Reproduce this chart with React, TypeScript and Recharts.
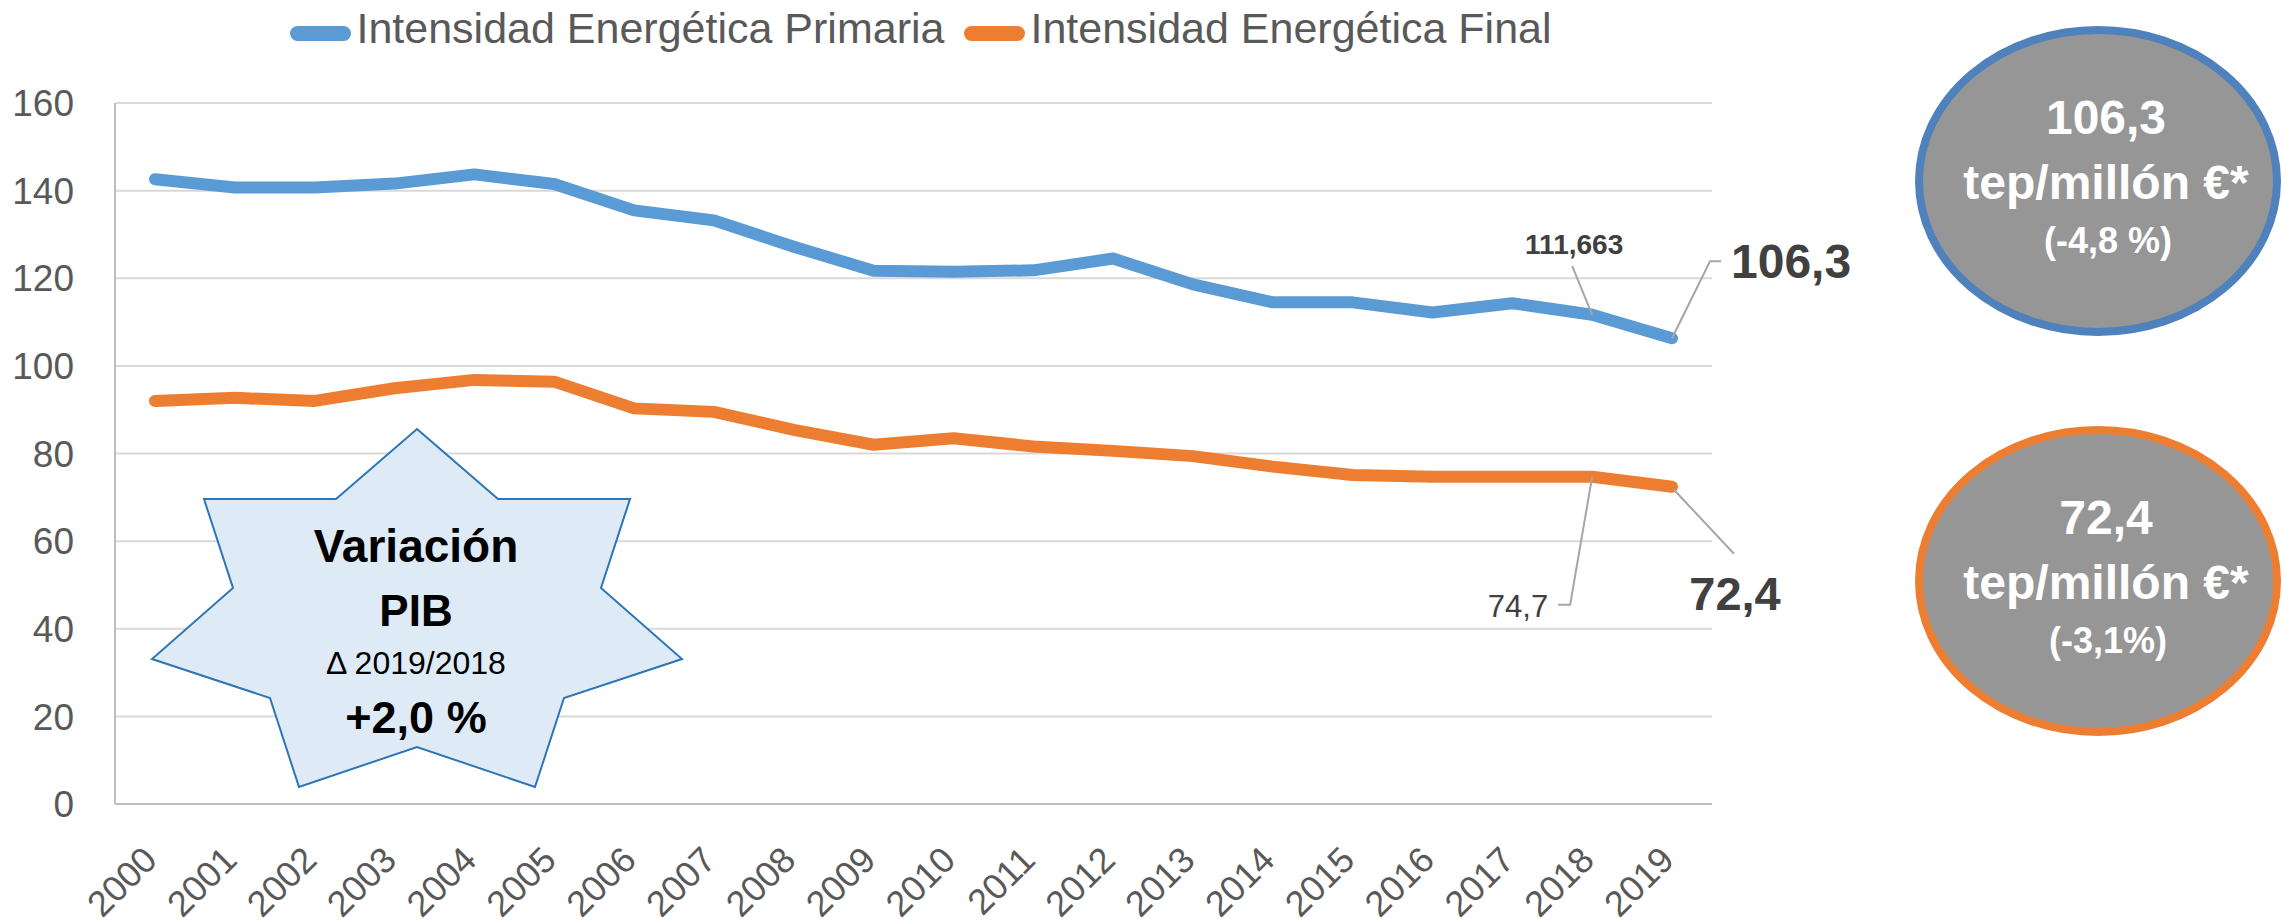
import { LineChart, Line, XAxis, YAxis, CartesianGrid, Legend } from "recharts";

const YEARS = ["2000", "2001", "2002", "2003", "2004", "2005", "2006", "2007", "2008", "2009",
  "2010", "2011", "2012", "2013", "2014", "2015", "2016", "2017", "2018", "2019"];
const PRIMARIA = [142.6, 140.7, 140.7, 141.6, 143.7, 141.5, 135.5, 133.2, 127.2, 121.7,
  121.5, 121.8, 124.5, 118.6, 114.5, 114.5, 112.2, 114.3, 111.663, 106.3];
const FINAL = [92.0, 92.7, 92.0, 94.9, 96.8, 96.4, 90.3, 89.5, 85.4, 82.0,
  83.5, 81.6, 80.6, 79.4, 77.0, 75.1, 74.7, 74.7, 74.7, 72.4];
const Y_TICKS = [0, 20, 40, 60, 80, 100, 120, 140, 160];

const SERIES = [
  { key: "primaria", name: "Intensidad Energética Primaria", color: "#5B9BD5" },
  { key: "final", name: "Intensidad Energética Final", color: "#ED7D31" },
];

const FONT = "'Liberation Sans', Arial, sans-serif";
const TEXT = "#595959";
const LABEL = "#404040";
const LEADER = "#A6A6A6";

const data = YEARS.map((year, i) => ({ year, primaria: PRIMARIA[i], final: FINAL[i] }));

const fmt = (v: number) => String(v).replace(".", ",");

function YearTick({ x, y, payload }: any) {
  const tx = x + 4;
  const ty = y + 58;
  return (
    <text x={tx} y={ty} transform={`rotate(-45, ${tx}, ${ty})`} textAnchor="end"
      fontSize={36} fontFamily={FONT} fill={TEXT}>
      {payload.value}
    </text>
  );
}

function PrimariaLabel({ x, y, index, value }: any) {
  if (index === 18) {
    return (
      <g>
        <line x1={x} y1={y} x2={x - 20} y2={y - 49} stroke={LEADER} strokeWidth={2} />
        <text x={x - 18} y={y - 61} textAnchor="middle" fontSize={28} fontWeight="bold"
          fontFamily={FONT} fill={LABEL}>{fmt(value)}</text>
      </g>
    );
  }
  if (index === 19) {
    return (
      <g>
        <polyline points={`${x},${y} ${x + 38},${y - 77} ${x + 49},${y - 77}`} fill="none"
          stroke={LEADER} strokeWidth={2} />
        <text x={x + 59} y={y - 60} fontSize={48} fontWeight="bold" fontFamily={FONT}
          fill={LABEL}>{fmt(value)}</text>
      </g>
    );
  }
  return null;
}

function FinalLabel({ x, y, index, value }: any) {
  if (index === 18) {
    return (
      <g>
        <polyline points={`${x},${y} ${x - 22},${y + 128} ${x - 34},${y + 128}`} fill="none"
          stroke={LEADER} strokeWidth={2} />
        <text x={x - 44} y={y + 140} textAnchor="end" fontSize={31} fontFamily={FONT}
          fill={LABEL}>{fmt(value)}</text>
      </g>
    );
  }
  if (index === 19) {
    return (
      <g>
        <line x1={x + 2} y1={y + 3} x2={x + 62} y2={y + 67} stroke={LEADER} strokeWidth={2} />
        <text x={x + 63} y={y + 123} textAnchor="middle" fontSize={47} fontWeight="bold"
          fontFamily={FONT} fill={LABEL}>{fmt(value)}</text>
      </g>
    );
  }
  return null;
}

function LegendContent() {
  return (
    <div style={{ display: "flex", justifyContent: "center", alignItems: "center", height: 56 }}>
      {SERIES.map((s, i) => (
        <div key={s.key} style={{ display: "flex", alignItems: "center", marginLeft: i ? 20 : 0 }}>
          <div style={{ width: 61, height: 15, borderRadius: 8, background: s.color, marginTop: 10 }} />
          <span style={{ marginLeft: 5, fontSize: 43, fontFamily: FONT, color: TEXT, lineHeight: "56px" }}>
            {s.name}
          </span>
        </div>
      ))}
    </div>
  );
}

const STAR = [
  [417, 429], [498, 499], [630, 499], [601, 588], [682, 659], [564, 698], [535, 787],
  [417, 747], [299, 787], [270, 698], [152, 659], [233, 588], [204, 499], [336, 499],
];

function Bubble({ cy, color, big, small }: { cy: number; color: string; big: string; small: string }) {
  return (
    <g fontFamily={FONT} fontWeight="bold" fill="#FFFFFF" textAnchor="middle">
      <ellipse cx={2098} cy={cy} rx={179} ry={151} fill="#969696" stroke={color} strokeWidth={8} />
      <text x={2106} y={cy - 47} fontSize={48}>{big}</text>
      <text x={2106} y={cy + 18} fontSize={48}>tep/millón €*</text>
      <text x={2108} y={cy + 72} fontSize={36}>{small}</text>
    </g>
  );
}

export default function App() {
  return (
    <div style={{ position: "absolute", left: 0, top: 0, width: 2285, height: 923, background: "#fff" }}>
      <LineChart width={2285} height={923} data={data}
        margin={{ top: 103, right: 573, bottom: 0, left: 0 }}>
        <CartesianGrid vertical={false} stroke="#D9D9D9" strokeWidth={2} />
        <XAxis dataKey="year" interval={0} height={119} padding={{ left: 40, right: 40 }}
          tickLine={false} tickSize={0} tickMargin={0}
          axisLine={{ stroke: "#BFBFBF", strokeWidth: 2 }} tick={<YearTick />} />
        <YAxis domain={[0, 160]} ticks={Y_TICKS} width={115} tickLine={false} tickSize={0}
          tickMargin={41} axisLine={{ stroke: "#BFBFBF", strokeWidth: 2 }}
          tick={{ fontSize: 37, fontFamily: FONT, fill: TEXT }} />
        <Legend verticalAlign="middle" align="center" layout="horizontal"
          wrapperStyle={{ top: 0, left: 0, width: 1842 }} content={<LegendContent />} />
        <Line type="linear" dataKey="primaria" name={SERIES[0].name} stroke={SERIES[0].color}
          strokeWidth={12} strokeLinecap="round" strokeLinejoin="round" dot={false}
          isAnimationActive={false} label={<PrimariaLabel />} />
        <Line type="linear" dataKey="final" name={SERIES[1].name} stroke={SERIES[1].color}
          strokeWidth={12} strokeLinecap="round" strokeLinejoin="round" dot={false}
          isAnimationActive={false} label={<FinalLabel />} />
      </LineChart>
      <svg width={2285} height={923} style={{ position: "absolute", left: 0, top: 0, pointerEvents: "none" }}>
        <polygon points={STAR.map((p) => p.join(",")).join(" ")} fill="#DEEBF7" stroke="#2E75B6" strokeWidth={2} />
        <g fontFamily={FONT} fill="#000" textAnchor="middle">
          <text x={416} y={562} fontSize={46} fontWeight="bold">Variación</text>
          <text x={416} y={626} fontSize={44} fontWeight="bold">PIB</text>
          <text x={416} y={674} fontSize={32}>Δ 2019/2018</text>
          <text x={416} y={733} fontSize={45} fontWeight="bold">+2,0 %</text>
        </g>
        <Bubble cy={181} color="#4F81BD" big="106,3" small="(-4,8 %)" />
        <Bubble cy={581} color="#ED7D31" big="72,4" small="(-3,1%)" />
      </svg>
    </div>
  );
}
